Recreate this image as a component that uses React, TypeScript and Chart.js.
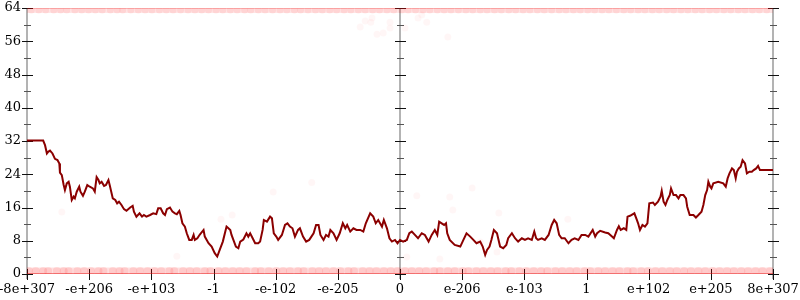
import React, { useEffect, useRef } from "react";
import { Chart, registerables } from "chart.js";

Chart.register(...registerables);

// ---- axis labels / ticks ----
const xLabels = ["-8e+307", "-e+206", "-e+103", "-1", "-e-102", "-e-205", "0", "e-206", "e-103", "1", "e+102", "e+205", "8e+307"];
const xTickValues = [-6, -5, -4, -3, -2, -1, 0, 1, 2, 3, 4, 5, 6];
const yMajorTicks = [0, 8, 16, 24, 32, 40, 48, 56, 64];
const yMinorTicks = [4, 12, 20, 28, 36, 44, 52, 60];
const axisPositions = [-6, 0, 6];

// ---- main walk (dark red line) ----
const walkX = [
  -6.0, -5.74, -5.71, -5.68, -5.66, -5.63, -5.59, -5.55, -5.51, -5.48, -5.47, -5.44, -5.41, -5.39, -5.36, -5.33, -5.31, -5.28, -5.25, -5.23,
  -5.2, -5.16, -5.14, -5.1, -5.07, -5.03, -4.99, -4.94, -4.91, -4.88, -4.85, -4.83, -4.8, -4.76, -4.73, -4.69, -4.67, -4.62, -4.58, -4.55,
  -4.52, -4.48, -4.44, -4.4, -4.34, -4.3, -4.28, -4.24, -4.19, -4.15, -4.12, -4.08, -4.02, -3.97, -3.92, -3.89, -3.85, -3.81, -3.78, -3.75,
  -3.7, -3.66, -3.62, -3.59, -3.55, -3.53, -3.5, -3.46, -3.43, -3.39, -3.35, -3.32, -3.3, -3.26, -3.22,
  -3.16, -3.14, -3.08, -3.03, -2.98, -2.94, -2.9, -2.85, -2.81, -2.79, -2.76, -2.73, -2.71, -2.68, -2.64, -2.6, -2.57, -2.52, -2.47, -2.44,
  -2.41, -2.37, -2.33, -2.28, -2.25, -2.21, -2.19, -2.14, -2.09, -2.06, -2.03, -1.99, -1.96, -1.9, -1.85, -1.81, -1.77, -1.73, -1.69, -1.64,
  -1.61, -1.56, -1.51, -1.46, -1.39, -1.35, -1.31, -1.28, -1.23, -1.19, -1.15, -1.12, -1.07, -1.02, -0.97, -0.92, -0.88, -0.85, -0.8, -0.75,
  -0.7, -0.64, -0.59, -0.55, -0.48, -0.43, -0.39, -0.35, -0.29, -0.26, -0.21, -0.17, -0.13, -0.08, -0.04, 0.0,
  0.05, 0.11, 0.15, 0.19, 0.24, 0.29, 0.35, 0.4, 0.46, 0.51, 0.56, 0.6, 0.63, 0.67, 0.71, 0.74, 0.76, 0.8, 0.88, 0.97,
  1.02, 1.07, 1.13, 1.18, 1.23, 1.29, 1.33, 1.37, 1.4, 1.44, 1.47, 1.51, 1.56, 1.61, 1.66, 1.71, 1.74, 1.8, 1.85, 1.9,
  1.96, 2.01, 2.06, 2.12, 2.16, 2.19, 2.22, 2.28, 2.33, 2.39, 2.44, 2.48, 2.52, 2.56, 2.6, 2.65, 2.71, 2.76, 2.81, 2.87,
  2.92, 2.98, 3.03, 3.1, 3.14, 3.17, 3.22,
  3.3, 3.35, 3.41, 3.44, 3.49, 3.52, 3.55, 3.6, 3.64, 3.66, 3.7, 3.77, 3.81, 3.83, 3.86, 3.9, 3.94, 3.98, 4.01, 4.07,
  4.1, 4.15, 4.19, 4.21, 4.24, 4.27, 4.3, 4.34, 4.36, 4.4, 4.44, 4.48, 4.51, 4.56, 4.6, 4.62, 4.66, 4.72, 4.76, 4.8,
  4.85, 4.88, 4.91, 4.94, 4.96, 4.99, 5.01, 5.04, 5.12, 5.2, 5.24, 5.27, 5.3, 5.34, 5.37, 5.4, 5.42, 5.45, 5.48, 5.51,
  5.55, 5.58, 5.62, 5.66, 5.69, 5.73, 5.76, 5.79, 6.0,
];
const walkY = [
  32.1, 32.1, 31.0, 29.0, 29.4, 29.7, 29.0, 27.7, 27.4, 26.6, 24.4, 23.8, 21.4, 20.2, 21.8, 22.2, 21.0, 17.8, 18.6, 18.2,
  19.8, 21.0, 19.8, 18.8, 19.8, 21.4, 21.0, 20.6, 19.8, 23.3, 22.6, 21.8, 22.2, 21.2, 21.4, 22.6, 21.4, 18.2, 17.8, 17.0,
  17.4, 16.6, 15.6, 15.2, 16.0, 16.4, 15.0, 13.8, 14.6, 13.8, 14.2, 13.8, 14.2, 14.6, 14.4, 15.8, 15.8, 14.6, 14.2, 15.6,
  16.0, 15.0, 14.6, 14.4, 15.2, 14.2, 12.2, 11.4, 9.8, 8.2, 8.2, 9.4, 8.2, 8.6, 9.5,
  10.6, 9.0, 7.4, 6.6, 5.0, 4.2, 5.8, 7.8, 10.2, 11.4, 11.0, 10.6, 9.4, 8.2, 6.6, 6.2, 7.8, 8.3, 9.8, 9.0,
  9.8, 8.6, 7.4, 7.4, 7.8, 10.6, 13.0, 12.6, 13.8, 13.4, 9.8, 9.0, 8.2, 9.4, 11.8, 12.2, 11.4, 11.0, 9.0, 10.6,
  11.0, 9.0, 7.8, 8.2, 9.8, 11.8, 11.8, 9.4, 8.2, 9.4, 9.0, 10.6, 9.8, 8.2, 9.8, 12.2, 11.0, 11.8, 10.2, 11.0,
  10.6, 10.6, 10.2, 12.2, 14.6, 13.8, 12.2, 13.0, 11.4, 13.0, 11.0, 8.6, 7.8, 8.2, 7.4, 8.2,
  7.8, 8.2, 9.8, 10.2, 9.4, 8.6, 9.8, 9.4, 7.8, 9.4, 10.6, 9.4, 12.6, 12.2, 11.8, 12.2, 9.8, 8.2, 7.0, 6.6,
  8.2, 9.8, 9.0, 8.2, 7.4, 7.8, 6.6, 4.6, 5.8, 6.6, 8.2, 10.6, 9.8, 6.6, 6.2, 7.0, 8.6, 9.8, 8.6, 7.8,
  8.6, 8.2, 8.6, 8.2, 10.2, 8.6, 8.2, 8.6, 8.2, 9.4, 11.8, 13.0, 12.2, 9.4, 8.6, 8.6, 7.4, 8.2, 8.6, 8.2,
  9.4, 9.4, 9.0, 10.6, 9.0, 9.8, 10.4,
  10.0, 9.8, 9.0, 8.6, 10.6, 11.5, 10.6, 11.0, 10.6, 13.8, 14.0, 14.6, 13.0, 12.2, 10.6, 11.8, 11.4, 12.2, 17.0, 17.2,
  16.6, 17.4, 18.6, 20.0, 17.4, 16.6, 17.8, 19.0, 20.6, 19.0, 19.0, 18.2, 19.0, 19.0, 18.2, 16.2, 14.2, 14.2, 13.6, 14.2,
  15.0, 16.6, 19.0, 20.2, 22.2, 21.0, 20.6, 21.8, 22.2, 21.8, 21.0, 23.0, 24.2, 25.4, 25.0, 23.0, 24.6, 25.4, 25.8, 27.4,
  26.6, 24.2, 24.6, 24.6, 25.0, 25.4, 26.0, 25.0, 25.0,
];

// ---- faint red point bands near 0 and 64 ----
const bandBottomX = [
  -5.97, -5.86, -5.74, -5.66, -5.52, -5.41, -5.33, -5.19, -5.08, -4.97, -4.85, -4.77, -4.62, -4.51, -4.43, -4.29, -4.18, -4.06, -3.95, -3.84,
  -3.71, -3.63, -3.49, -3.38, -3.27, -3.14, -3.05, -2.92, -2.81, -2.69, -2.58, -2.47, -2.33, -2.24, -2.11, -1.99, -1.88, -1.77, -1.64, -1.55,
  -1.41, -1.3, -1.19, -1.07, -0.96, -0.83, -0.74, -0.6, -0.49, -0.38, -0.26, -0.15, -0.04, 0.08, 0.19, 0.31, 0.42, 0.55, 0.64, 0.77,
  0.88, 1.01, 1.1, 1.23, 1.34, 1.46, 1.57, 1.7, 1.79, 1.92, 2.03, 2.15, 2.27, 2.37, 2.5, 2.61, 2.73, 2.84, 2.97, 3.06,
  3.19, 3.3, 3.42, 3.53, 3.66, 3.75, 3.88, 3.99, 4.11, 4.22, 4.34, 4.45, 4.57, 4.68, 4.8, 4.91, 5.03, 5.14, 5.26, 5.37,
  5.49, 5.6, 5.72, 5.83, 5.95,
];
const bandTopX = [
  -5.93, -5.81, -5.7, -5.57, -5.46, -5.36, -5.23, -5.12, -5.01, -4.9, -4.79, -4.66, -4.55, -4.46, -4.33, -4.21, -4.1, -3.99, -3.87, -3.76,
  -3.65, -3.53, -3.41, -3.3, -3.19, -3.08, -2.96, -2.85, -2.73, -2.62, -2.5, -2.4, -2.28, -2.17, -2.05, -1.93, -1.82, -1.7, -1.6, -1.48,
  -1.36, -1.25, -1.13, -1.02, -0.9, -0.79, -0.67, -0.56, -0.44, -0.33, -0.21, -0.1, 0.03, 0.13, 0.25, 0.37, 0.48, 0.6, 0.71, 0.82,
  0.94, 1.06, 1.17, 1.29, 1.4, 1.52, 1.63, 1.75, 1.86, 1.98, 2.09, 2.21, 2.32, 2.44, 2.56, 2.67, 2.79, 2.9, 3.02, 3.13,
  3.25, 3.36, 3.48, 3.6, 3.71, 3.83, 3.94, 4.06, 4.17, 4.29, 4.4, 4.52, 4.63, 4.75, 4.86, 4.98, 5.09, 5.21, 5.32, 5.44,
  5.55, 5.67, 5.78, 5.9,
];
const bandBottomLevel = 0.7;
const bandTopLevel = 63.5;
const bandLineX = [-6, 6];

// ---- scattered faint points ----
const strayX = [-0.56, -0.45, -0.47, -0.64, -0.16, -0.16, 0.08, 0.29, 0.35, 0.43, -0.37, -0.27, 0.77, -1.42, -2.04, -2.7, -2.88, 0.27, 0.8, 1.16, 0.85, 1.59, 2.7, 1.29, 1.56, 0.11, 0.64, -5.44, -3.59];
const strayY = [60.9, 61.6, 60.6, 59.4, 60.6, 59.2, 59.2, 61.6, 62.3, 60.6, 57.7, 58.0, 57.0, 22.0, 19.7, 14.2, 13.2, 18.8, 18.5, 20.7, 15.4, 14.7, 13.2, 7.7, 5.3, 4.1, 3.6, 14.9, 4.3];

const axesPlugin = {
  id: "customAxes",
  beforeDatasetsDraw(chart: any) {
    const { ctx, scales } = chart;
    const xs = scales.x;
    const ys = scales.y;
    const top = ys.getPixelForValue(yMajorTicks[yMajorTicks.length - 1]);
    const bottom = ys.getPixelForValue(yMajorTicks[0]);
    ctx.save();
    ctx.strokeStyle = "#b3b3b3";
    ctx.lineWidth = 2;
    axisPositions.forEach((a) => {
      const px = Math.round(xs.getPixelForValue(a));
      ctx.beginPath();
      ctx.moveTo(px, top);
      ctx.lineTo(px, bottom + 5);
      ctx.stroke();
    });
    ctx.lineWidth = 1;
    axisPositions.forEach((a) => {
      const px = Math.round(xs.getPixelForValue(a));
      ctx.strokeStyle = "#111";
      yMajorTicks.forEach((t) => {
        const py = Math.round(ys.getPixelForValue(t)) + 0.5;
        ctx.beginPath();
        ctx.moveTo(px - 5, py);
        ctx.lineTo(px + 6, py);
        ctx.stroke();
      });
      ctx.strokeStyle = "#555";
      yMinorTicks.forEach((t) => {
        const py = Math.round(ys.getPixelForValue(t)) + 0.5;
        ctx.beginPath();
        ctx.moveTo(px - 3, py);
        ctx.lineTo(px + 4, py);
        ctx.stroke();
      });
    });
    ctx.strokeStyle = "#111";
    xTickValues.forEach((v) => {
      const px = Math.round(xs.getPixelForValue(v)) + 0.5;
      ctx.beginPath();
      ctx.moveTo(px, bottom - 5);
      ctx.lineTo(px, bottom + 6);
      ctx.stroke();
    });
    ctx.restore();
  },
};

export default function App() {
  const canvasRef = useRef<HTMLCanvasElement | null>(null);

  useEffect(() => {
    document.body.style.margin = "0";
    const canvas = canvasRef.current;
    if (!canvas) return;
    Chart.defaults.font.family = "'DejaVu Serif', serif";
    Chart.defaults.color = "#000";

    const chart = new Chart(canvas, {
      type: "scatter",
      data: {
        datasets: [
          {
            label: "bandFill0",
            data: bandLineX.map((x) => ({ x, y: bandBottomLevel })),
            showLine: true,
            pointRadius: 0,
            borderColor: "rgba(255,0,0,0.12)",
            borderWidth: 7,
          },
          {
            label: "bandFill64",
            data: bandLineX.map((x) => ({ x, y: bandTopLevel })),
            showLine: true,
            pointRadius: 0,
            borderColor: "rgba(255,0,0,0.1)",
            borderWidth: 6,
          },
          {
            label: "band0",
            data: bandBottomX.map((x) => ({ x, y: bandBottomLevel })),
            pointRadius: 4,
            pointBackgroundColor: "rgba(255,0,0,0.1)",
            pointBorderColor: "rgba(255,0,0,0)",
            pointBorderWidth: 0,
          },
          {
            label: "band64",
            data: bandTopX.map((x) => ({ x, y: bandTopLevel })),
            pointRadius: 3.5,
            pointBackgroundColor: "rgba(255,0,0,0.08)",
            pointBorderColor: "rgba(255,0,0,0)",
            pointBorderWidth: 0,
          },
          {
            label: "line0",
            data: bandLineX.map((x) => ({ x, y: 0 })),
            showLine: true,
            pointRadius: 0,
            borderColor: "rgba(225,20,20,0.65)",
            borderWidth: 1.5,
          },
          {
            label: "line64",
            data: bandLineX.map((x) => ({ x, y: 64 })),
            showLine: true,
            pointRadius: 0,
            borderColor: "rgba(225,20,20,0.35)",
            borderWidth: 1.5,
          },
          {
            label: "stray",
            data: strayX.map((x, i) => ({ x, y: strayY[i] })),
            pointRadius: 3.5,
            pointBackgroundColor: "rgba(255,0,0,0.035)",
            pointBorderColor: "rgba(255,0,0,0)",
            pointBorderWidth: 0,
          },
          {
            label: "walk",
            data: walkX.map((x, i) => ({ x, y: walkY[i] })),
            showLine: true,
            pointRadius: 0,
            borderColor: "#8b0000",
            borderWidth: 2,
            tension: 0,
          },
        ],
      },
      options: {
        animation: false,
        responsive: false,
        layout: { padding: 0 },
        plugins: { legend: { display: false }, tooltip: { enabled: false } },
        scales: {
          x: {
            type: "linear",
            min: -6,
            max: 6,
            grid: { display: false, drawTicks: false },
            border: { display: false },
            afterFit: (scale: any) => {
              scale.height = 26;
              scale.paddingLeft = 0;
              scale.paddingRight = 27;
            },
            ticks: {
              stepSize: 1,
              autoSkip: false,
              maxRotation: 0,
              padding: 8,
              font: { size: 13, family: "'DejaVu Serif', serif" },
              color: "#000",
              callback: (value: any) => xLabels[Math.round(Number(value)) + 6] ?? "",
            },
          },
          y: {
            type: "linear",
            min: 0,
            max: 64,
            grid: { display: false, drawTicks: false },
            border: { display: false },
            afterFit: (scale: any) => {
              scale.width = 27;
              scale.paddingTop = 8;
              scale.paddingBottom = 0;
            },
            ticks: {
              stepSize: 8,
              padding: 6,
              font: { size: 13, family: "'DejaVu Serif', serif" },
              color: "#000",
            },
          },
        },
      },
      plugins: [axesPlugin],
    });

    return () => chart.destroy();
  }, []);

  return (
    <div style={{ position: "absolute", left: 0, top: 0, width: 800, height: 300, background: "#fff" }}>
      <canvas ref={canvasRef} width={800} height={300} style={{ display: "block" }} />
    </div>
  );
}
